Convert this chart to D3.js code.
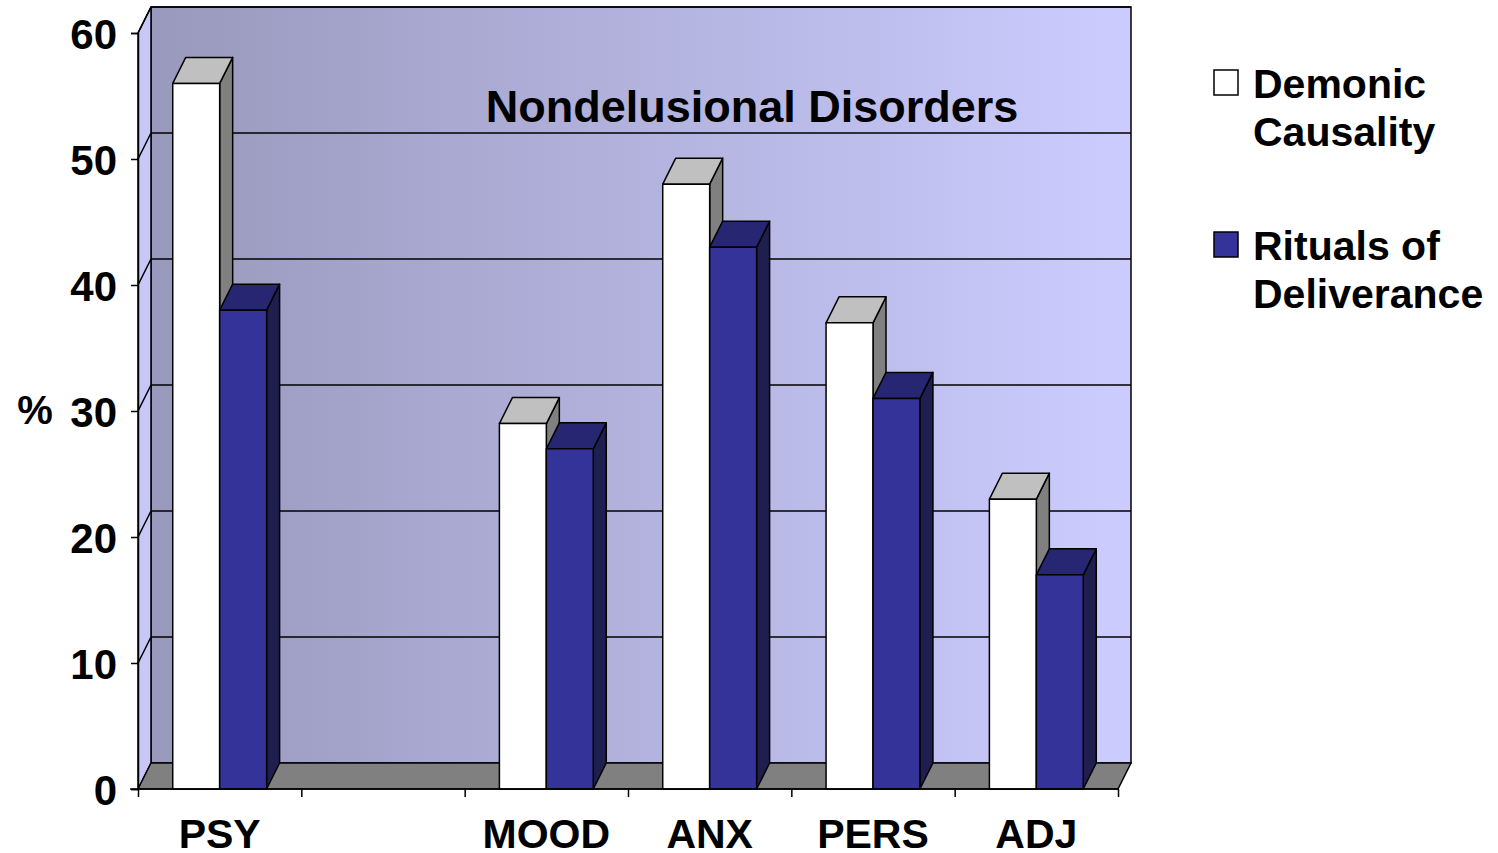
<!DOCTYPE html>
<html>
<head>
<meta charset="utf-8">
<script src="https://cdn.jsdelivr.net/npm/d3@7"></script>
<style>
  body { margin: 0; background: #fff; }
  text { font-family: "Liberation Sans", Arial, sans-serif; font-weight: bold; fill: #000; }
</style>
</head>
<body>
<div id="chart"></div>
<script>
// chart data
var categories = ['PSY', '', 'MOOD', 'ANX', 'PERS', 'ADJ'];
var seriesNames = ['Demonic Causality', 'Rituals of Deliverance'];
var demonic = [56, null, 29, 48, 37, 23];
var rituals = [38, null, 27, 43, 31, 17];
var yTicks = [0, 10, 20, 30, 40, 50, 60];

const width = 1498;
const height = 853;
const plotLeft = 138, plotRight = 1118, plotBottom = 789, plotTop = 33;
const dx = 13, dy = -26; // depth offset of the 3d box

var svg = d3.select('#chart').append('svg')
    .attr('width', width)
    .attr('height', height);

var x = d3.scaleBand().domain(categories).range([plotLeft, plotRight]);
var xs = d3.scaleBand().domain(seriesNames).range([0, x.bandwidth()]).paddingOuter(0.74);
var y = d3.scaleLinear().domain([0, 60]).range([plotBottom, plotTop]);
var xi = d3.scaleLinear().domain([0, categories.length]).range([plotLeft, plotRight]);

// gradient for back wall
var defs = svg.append('defs');
var grad = defs.append('linearGradient').attr('id', 'wall');
grad.append('stop').attr('offset', '0%').attr('stop-color', '#9999bd');
grad.append('stop').attr('offset', '100%').attr('stop-color', '#ccccff');

// back wall
svg.append('rect')
    .attr('x', plotLeft + dx).attr('y', y(60) + dy)
    .attr('width', plotRight - plotLeft).attr('height', y(0) - y(60))
    .attr('fill', 'url(#wall)')
    .attr('stroke', '#000').attr('stroke-width', 1.5);

// side wall
svg.append('path')
    .attr('d', `M${plotLeft},${y(0)} L${plotLeft},${y(60)} L${plotLeft + dx},${y(60) + dy} L${plotLeft + dx},${y(0) + dy} Z`)
    .attr('fill', '#c8c8f8')
    .attr('stroke', '#000').attr('stroke-width', 1.5);

// grid lines
yTicks.forEach(function (v) {
    if (v === 0) return;
    svg.append('line')
        .attr('x1', plotLeft + dx).attr('x2', plotRight + dx)
        .attr('y1', y(v) + dy).attr('y2', y(v) + dy)
        .attr('stroke', '#000').attr('stroke-width', 1.5);
    svg.append('line')
        .attr('x1', plotLeft).attr('x2', plotLeft + dx)
        .attr('y1', y(v)).attr('y2', y(v) + dy)
        .attr('stroke', '#000').attr('stroke-width', 1.5);
});

// floor
svg.append('path')
    .attr('d', `M${plotLeft},${y(0)} L${plotRight},${y(0)} L${plotRight + dx},${y(0) + dy} L${plotLeft + dx},${y(0) + dy} Z`)
    .attr('fill', '#808080')
    .attr('stroke', '#000').attr('stroke-width', 1.5);

// bars
var styles = [
    { front: '#ffffff', top: '#c0c0c0', side: '#808080' },
    { front: '#333399', top: '#262673', side: '#1f1f4f' }
];
var seriesData = [demonic, rituals];

categories.forEach(function (c, i) {
    seriesData.forEach(function (vals, s) {
        var v = vals[i];
        if (v === null) return;
        var x0 = x(c) + xs(seriesNames[s]);
        var x1 = x0 + xs.bandwidth();
        var y0 = y(0), y1 = y(v);
        var g = svg.append('g');
        g.append('path')
            .attr('d', `M${x1},${y0} L${x1},${y1} L${x1 + dx},${y1 + dy} L${x1 + dx},${y0 + dy} Z`)
            .attr('fill', styles[s].side);
        g.append('path')
            .attr('d', `M${x0},${y1} L${x1},${y1} L${x1 + dx},${y1 + dy} L${x0 + dx},${y1 + dy} Z`)
            .attr('fill', styles[s].top);
        g.append('rect')
            .attr('x', x0).attr('y', y1)
            .attr('width', x1 - x0).attr('height', y0 - y1)
            .attr('fill', styles[s].front);
        g.selectAll('*').attr('stroke', '#000').attr('stroke-width', 1.5).attr('stroke-linejoin', 'round');
    });
});

// y axis
var yAxis = d3.axisLeft(y).tickValues(yTicks).tickSize(7).tickPadding(14).tickFormat(d3.format('d'));
var gy = svg.append('g').attr('transform', `translate(${plotLeft},0)`).call(yAxis);
gy.select('.domain').attr('stroke-width', 1.5);
gy.selectAll('.tick line').attr('stroke-width', 1.5);
gy.selectAll('.tick text').style('font-size', '42px').attr('dy', '0.36em');

// x axis
var xAxis = d3.axisBottom(xi).ticks(categories.length).tickSize(8).tickFormat('');
var gx = svg.append('g').attr('transform', `translate(0,${plotBottom})`).call(xAxis);
gx.select('.domain').attr('d', `M${plotLeft - 8},0H${plotRight}`).attr('stroke-width', 1.5);
gx.selectAll('.tick line').attr('stroke-width', 1.5);

svg.selectAll('.xlabel')
    .data(categories.filter(function (c) { return c !== ''; }))
    .enter().append('text')
    .attr('class', 'xlabel')
    .attr('x', function (c) { return x(c) + x.bandwidth() / 2; })
    .attr('y', 848)
    .attr('text-anchor', 'middle')
    .style('font-size', '41px')
    .text(function (c) { return c; });

// y label
svg.append('text')
    .attr('x', 35).attr('y', 424)
    .attr('text-anchor', 'middle')
    .style('font-size', '40px')
    .text('%');

// title
svg.append('text')
    .attr('x', 752).attr('y', 122)
    .attr('text-anchor', 'middle')
    .style('font-size', '45px')
    .text('Nondelusional Disorders');

// legend
var legendLines = [['Demonic', 'Causality'], ['Rituals of', 'Deliverance']];
var legendColors = ['#ffffff', '#333399'];
legendLines.forEach(function (lines, i) {
    var ly = 70 + i * 162;
    svg.append('rect')
        .attr('x', 1214).attr('y', ly)
        .attr('width', 24).attr('height', 25)
        .attr('fill', legendColors[i])
        .attr('stroke', '#000').attr('stroke-width', 1.5);
    lines.forEach(function (t, j) {
        svg.append('text')
            .attr('x', 1253).attr('y', ly + 28 + j * 48)
            .style('font-size', '41px')
            .text(t);
    });
});
</script>
</body>
</html>
